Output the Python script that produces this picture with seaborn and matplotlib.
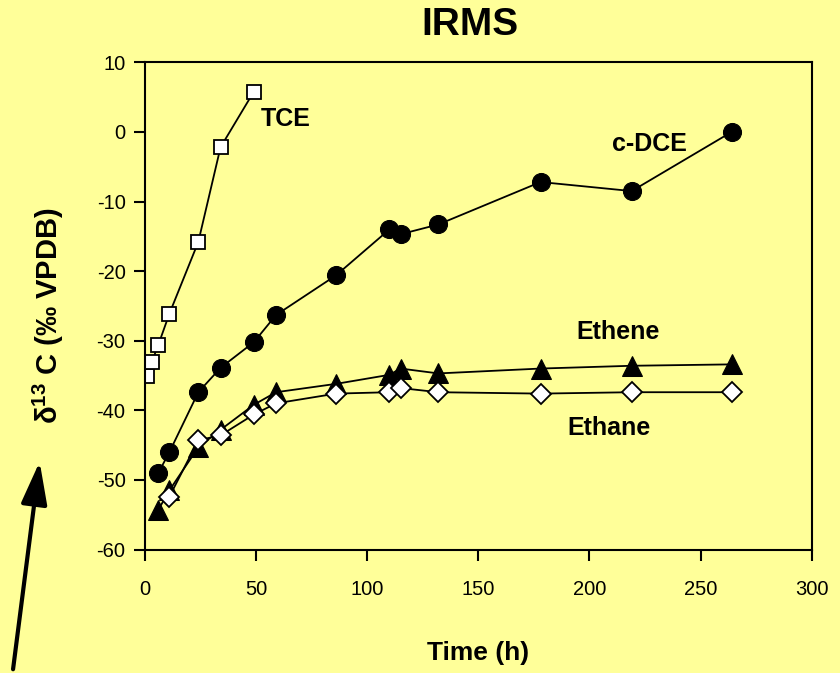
import matplotlib
matplotlib.use("Agg")
import matplotlib.pyplot as plt
import seaborn as sns

# time points (h) and delta13C values (permil VPDB)
tce_time = [1, 3, 6, 11, 24, 34, 49]
tce_d13c = [-35.0, -33.1, -30.6, -26.1, -15.8, -2.2, 5.8]

dce_time = [6, 11, 24, 34, 49, 59, 86, 110, 115, 132, 178, 219, 264]
dce_d13c = [-49.0, -46.0, -37.4, -33.9, -30.2, -26.3, -20.6, -14.0, -14.7, -13.3, -7.2, -8.5, 0.0]

ethene_time = [6, 11, 24, 34, 49, 59, 86, 110, 115, 132, 178, 219, 264]
ethene_d13c = [-54.3, -51.5, -45.3, -42.8, -39.2, -37.4, -36.2, -34.9, -34.0, -34.7, -34.0, -33.6, -33.4]

ethane_time = [11, 24, 34, 49, 59, 86, 110, 115, 132, 178, 219, 264]
ethane_d13c = [-52.4, -44.3, -43.6, -40.6, -39.0, -37.6, -37.4, -36.8, -37.4, -37.6, -37.4, -37.4]

bg = "#FFFF99"

sns.set_theme(style="ticks")
plt.rcParams["font.family"] = ["Liberation Sans", "DejaVu Sans"]
plt.rcParams.update({
    "text.color": "black",
    "axes.labelcolor": "black",
    "xtick.color": "black",
    "ytick.color": "black",
    "axes.unicode_minus": False,
    "mathtext.fontset": "custom",
    "mathtext.rm": "Liberation Sans:bold",
    "mathtext.bf": "Liberation Sans:bold",
})

fig = plt.figure(figsize=(8.4, 6.73), dpi=100, facecolor=bg)
ax = fig.add_axes([0.1726, 0.1835, 0.7937, 0.7239])
ax.set_facecolor(bg)

line_kw = dict(color="black", linewidth=1.3, estimator=None, sort=False, ax=ax)

sns.lineplot(x=tce_time, y=tce_d13c, marker="s", markersize=10,
             markerfacecolor="white", markeredgecolor="black", markeredgewidth=1.3, **line_kw)
sns.lineplot(x=dce_time, y=dce_d13c, marker="o", markersize=13,
             markerfacecolor="black", markeredgecolor="black", **line_kw)
sns.lineplot(x=ethene_time, y=ethene_d13c, marker="^", markersize=14,
             markerfacecolor="black", markeredgecolor="black", **line_kw)
sns.lineplot(x=ethane_time, y=ethane_d13c, marker="D", markersize=10,
             markerfacecolor="white", markeredgecolor="black", markeredgewidth=1.3, **line_kw)

ax.set_xlim(0, 300)
ax.set_ylim(-60, 10)
ax.set_xticks(range(0, 301, 50))
ax.set_yticks(range(-60, 11, 10))
ax.tick_params(axis="both", direction="out", length=8, width=1.5,
               labelsize=14.5, pad=6)
ax.tick_params(axis="x", pad=14)
for s in ax.spines.values():
    s.set_visible(True)
    s.set_linewidth(1.5)
    s.set_color("black")

ax.set_xlabel("Time (h)", fontsize=19, fontweight="bold", labelpad=30)
ax.set_ylabel("δ$^{13}$ C (‰ VPDB)", fontsize=21, fontweight="bold", labelpad=22)
ax.yaxis.label.set_y(0.48)
fig.text(0.56, 0.963, "IRMS", ha="center", va="center", fontsize=28, fontweight="bold")

lab = dict(fontsize=18, fontweight="bold", ha="left", va="baseline")
ax.text(52, 0.8, "TCE", **lab)
ax.text(210, -2.8, "c-DCE", **lab)
ax.text(194, -29.8, "Ethene", **lab)
ax.text(190, -43.6, "Ethane", **lab)

# arrow pointing to the axis label
fig.patches.append(matplotlib.patches.FancyArrowPatch(
    (12.7 / 840, 1 - 672 / 673), (40 / 840, 1 - 459 / 673), transform=fig.transFigure,
    arrowstyle="-|>,head_length=26,head_width=8", mutation_scale=1, color="black", linewidth=3))

fig.savefig("out.png", dpi=100, facecolor=bg)
